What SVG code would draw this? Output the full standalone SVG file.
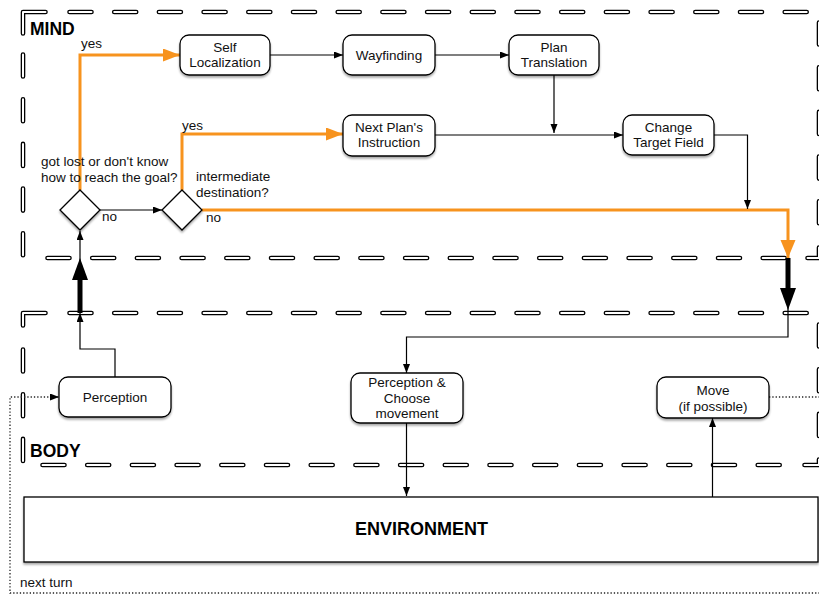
<svg xmlns="http://www.w3.org/2000/svg" width="819" height="595" viewBox="0 0 819 595">
<style>
text{font-family:"Liberation Sans",Arial,sans-serif;font-size:13.5px;fill:#111}
.c{text-anchor:middle}
.t{font-weight:bold;font-size:17.5px;fill:#000}
.node{fill:#fff;stroke:#000;stroke-width:1.3}
.bo{fill:none;stroke:#000;stroke-width:4.6;stroke-linecap:round;stroke-linejoin:round;stroke-dasharray:22 22.7}
.bi{fill:none;stroke:#fff;stroke-width:2;stroke-linecap:round;stroke-linejoin:round;stroke-dasharray:22 22.7}
.solid{stroke-dasharray:none}
.k{fill:none;stroke:#000;stroke-width:1.2}
.o{fill:none;stroke:#F7931E;stroke-width:3}
.kb{fill:none;stroke:#000;stroke-width:5}
.dot{fill:none;stroke:#222;stroke-width:1.3;stroke-dasharray:1.3 2}
</style>
<defs>
<filter id="sh" x="-10%" y="-10%" width="120%" height="130%">
<feDropShadow dx="0" dy="2" stdDeviation="1.3" flood-color="#000" flood-opacity="0.35"/>
</filter>
<marker id="ak" markerUnits="userSpaceOnUse" markerWidth="10" markerHeight="8" refX="9" refY="3.5" orient="auto"><path d="M0,0 L9,3.5 L0,7 z" fill="#000"/></marker>
<marker id="ao" markerUnits="userSpaceOnUse" markerWidth="18" markerHeight="14" refX="17" refY="6.5" orient="auto"><path d="M0,0 L17,6.5 L0,13 z" fill="#F7931E"/></marker>
<marker id="akb" markerUnits="userSpaceOnUse" markerWidth="24" markerHeight="18" refX="10" refY="8" orient="auto"><path d="M0,0 L22,8 L0,16 z" fill="#000"/></marker>
<marker id="aob" markerUnits="userSpaceOnUse" markerWidth="20" markerHeight="16" refX="18" refY="7.5" orient="auto"><path d="M0,0 L18,7.5 L0,15 z" fill="#F7931E"/></marker>
<g id="mindb">
<path d="M23,33.5 V12 H45.5" class="solid"/>
<path d="M69.5,12 H816"/>
<path d="M819,22.5 V245"/>
<path d="M819,247.5 V258 H807.5" class="solid"/>
<path d="M47.5,258 H790"/>
<path d="M23,54.5 V258"/>
</g>
<g id="bodyb">
<path d="M23,325.5 V313 H45.5" class="solid"/>
<path d="M69.5,313 H816"/>
<path d="M819,324.5 V440"/>
<path d="M819,459.5 V465 H804.5" class="solid"/>
<path d="M42.5,465 H785"/>
<path d="M23,349.5 V465"/>
</g>
</defs>

<g id="borders">
<use href="#mindb" class="bo"/>
<use href="#mindb" class="bi"/>
<use href="#bodyb" class="bo"/>
<use href="#bodyb" class="bi"/>
<text x="30" y="35" class="t">MIND</text>
<text x="30" y="457" class="t">BODY</text>
</g>

<g id="connectors">
<path class="dot" d="M769,397 H830 V593 H10 V397 H59" marker-end="url(#ak)"/>
<path class="o" d="M80,190 V55 H180" marker-end="url(#ao)"/>
<path class="o" d="M182,190 V134 H343" marker-end="url(#ao)"/>
<path class="o" d="M202,210 H788 V258" marker-end="url(#aob)"/>
<path class="k" d="M100,210 H162" marker-end="url(#ak)"/>
<path class="k" d="M270,55 H343" marker-end="url(#ak)"/>
<path class="k" d="M435,55 H509" marker-end="url(#ak)"/>
<path class="k" d="M554,75 V133" marker-end="url(#ak)"/>
<path class="k" d="M435,135 H623" marker-end="url(#ak)"/>
<path class="k" d="M714,135 H747.5 V209" marker-end="url(#ak)"/>
<path class="kb" d="M788,258 V298" marker-end="url(#akb)"/>
<path class="k" d="M788,306 V337 H406.5 V373" marker-end="url(#ak)"/>
<path class="kb" d="M80,313 V270" marker-end="url(#akb)"/>
<path class="k" d="M80,262 V231" marker-end="url(#ak)"/>
<path class="k" d="M115,377 V349 H80 V313" marker-end="url(#ak)"/>
<path class="k" d="M406.5,423 V496" marker-end="url(#ak)"/>
<path class="k" d="M712.5,497 V418" marker-end="url(#ak)"/>
<text x="81" y="48">yes</text>
<text x="182" y="130">yes</text>
<text x="102" y="221">no</text>
<text x="206" y="222">no</text>
<text x="20" y="587">next turn</text>
</g>

<g id="n-self"><rect class="node" filter="url(#sh)" x="180" y="35" width="90" height="40" rx="9"/><text class="c" x="225" y="51.5">Self</text><text class="c" x="225" y="67">Localization</text></g>
<g id="n-way"><rect class="node" filter="url(#sh)" x="343" y="35" width="92" height="40" rx="9"/><text class="c" x="389" y="59.5">Wayfinding</text></g>
<g id="n-plan"><rect class="node" filter="url(#sh)" x="509" y="35" width="90" height="40" rx="9"/><text class="c" x="554" y="51.5">Plan</text><text class="c" x="554" y="67">Translation</text></g>
<g id="n-next"><rect class="node" filter="url(#sh)" x="343" y="115" width="92" height="41" rx="9"/><text class="c" x="389" y="131.5">Next Plan's</text><text class="c" x="389" y="147">Instruction</text></g>
<g id="n-change"><rect class="node" filter="url(#sh)" x="623" y="115" width="91" height="40" rx="9"/><text class="c" x="668.5" y="131.5">Change</text><text class="c" x="668.5" y="147">Target Field</text></g>
<g id="d-lost"><polygon class="node" filter="url(#sh)" points="80,190 100,210 80,230 60,210"/><text x="41" y="166">got lost or don't know</text><text x="41" y="182">how to reach the goal?</text></g>
<g id="d-inter"><polygon class="node" filter="url(#sh)" points="182,190 202,210 182,230 162,210"/><text x="196" y="181">intermediate</text><text x="196" y="197">destination?</text></g>
<g id="n-perc"><rect class="node" filter="url(#sh)" x="59" y="377" width="112" height="40" rx="9"/><text class="c" x="115" y="402">Perception</text></g>
<g id="n-choose"><rect class="node" filter="url(#sh)" x="351" y="373" width="112" height="50" rx="9"/><text class="c" x="407" y="387">Perception &amp;</text><text class="c" x="407" y="402.5">Choose</text><text class="c" x="407" y="418">movement</text></g>
<g id="n-move"><rect class="node" filter="url(#sh)" x="657" y="377" width="112" height="41" rx="9"/><text class="c" x="713" y="395">Move</text><text class="c" x="713" y="410.5">(if possible)</text></g>
<g id="n-env"><rect class="node" filter="url(#sh)" x="24" y="497" width="794" height="65" stroke-width="1.5"/><text class="c t" x="421.5" y="535" style="font-size:18px">ENVIRONMENT</text></g>
</svg>
